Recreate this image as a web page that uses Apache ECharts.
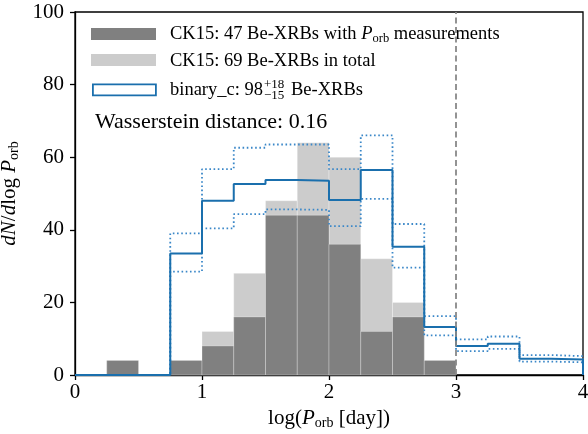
<!DOCTYPE html>
<html><head><meta charset="utf-8">
<script src="https://cdn.jsdelivr.net/npm/echarts@6/dist/echarts.min.js"></script>
<style>html,body{margin:0;padding:0;background:#fff}#c{width:588px;height:434px}</style>
</head><body><div id="c"></div>
<script>
// bin left edges (log P_orb), width 0.25
const binEdges = [0,0.25,0.5,0.75,1,1.25,1.5,1.75,2,2.25,2.5,2.75,3,3.25,3.5,3.75];
const binWidth = 0.25;
const ck15Measured = [0,4,0,4,8,16,44,44,36,12,16,4,0,0,0,0];
const ck15Total    = [0,4,0,4,12,28,48,64,60,32,20,4,0,0,0,0];
const binaryC      = [0,0,0,33.5,48,52.6,53.7,53.5,48.2,56.5,35.3,13.2,8.0,8.6,4.5,4.3];
const binaryCUpper = [0,0,0,39,56.7,62.6,63.5,63.5,56.7,66,41.6,16.2,9.8,10.6,5.5,5.2];
const binaryCLower = [0,0,0,28.5,40.4,44.3,45.6,45.5,41,48.5,29.6,10.9,6.6,7.2,3.7,3.5];
const xTicks = [0,1,2,3,4];
const yTicks = [0,20,40,60,80,100];
const cutLine = 3;

const FONT = 'Liberation Serif';
const solidBlue = '#1a6fad', dotBlue = '#3a87c8';

function stepData(vals){
  const d = binEdges.map((e,i)=>[e, vals[i]]);
  const last = binEdges[binEdges.length-1] + binWidth;
  d.push([last, vals[vals.length-1]]);
  d.push([last, 0]);
  return d;
}
function barData(vals){ return binEdges.map((e,i)=>[e, vals[i]]); }
function barRender(color){
  return function(params, api){
    const x0 = api.value(0), v = api.value(1);
    if (!v) return null;
    const p0 = api.coord([x0, 0]), p1 = api.coord([x0 + binWidth, v]);
    return {type:'rect', shape:{x:p0[0], y:p1[1], width:p1[0]-p0[0], height:p0[1]-p1[1]},
      style:{fill:color, stroke:'rgba(255,255,255,0.35)', lineWidth:0.8}};
  };
}

const chart = echarts.init(document.getElementById('c'), null, {renderer:'canvas'});
const axisCommon = {
  axisLine:{show:true, onZero:false, lineStyle:{color:'#000', width:1.3}},
  axisTick:{show:true, inside:false, length:5, lineStyle:{color:'#000', width:1.3}},
  splitLine:{show:false},
  axisLabel:{color:'#000', fontFamily:FONT, fontSize:21}
};
const richName = {
  n:{fontFamily:FONT, fontSize:21, color:'#000'},
  i:{fontFamily:FONT, fontSize:21, fontStyle:'italic', color:'#000'},
  sub:{fontFamily:FONT, fontSize:14, color:'#000', padding:[10,0,0,0]}
};
chart.setOption({
  animation:false,
  textStyle:{fontFamily:FONT},
  grid:{left:75, right:5, top:12, bottom:59, containLabel:false, outerBoundsMode:'none',
    show:true, borderColor:'#000', borderWidth:1.3, backgroundColor:'transparent'},
  xAxis:Object.assign({type:'value', min:0, max:4, interval:1,
    name:'{n|log(}{i|P}{sub|orb}{n| [day])}', nameLocation:'middle', nameGap:31,
    nameTextStyle:{rich:richName}}, axisCommon, {axisLabel:Object.assign({}, axisCommon.axisLabel, {margin:7})}),
  yAxis:Object.assign({type:'value', min:0, max:100, interval:20,
    name:'{i|dN}{n|/}{i|d}{n|log }{i|P}{sub|orb}', nameLocation:'middle', nameGap:43, nameRotate:90,
    nameTextStyle:{rich:richName}}, axisCommon, {axisLabel:Object.assign({}, axisCommon.axisLabel, {margin:11})}),
  series:[
    {type:'custom', renderItem:barRender('#cccccc'), data:barData(ck15Total), z:1},
    {type:'custom', renderItem:barRender('#808080'), data:barData(ck15Measured), z:2},
    {type:'line', step:'end', data:stepData(binaryCUpper), symbol:'none', z:3,
      lineStyle:{color:dotBlue, width:1.8, type:[1.6,2.6]}},
    {type:'line', step:'end', data:stepData(binaryCLower), symbol:'none', z:3,
      lineStyle:{color:dotBlue, width:1.8, type:[1.6,2.6]}},
    {type:'line', step:'end', data:stepData(binaryC), symbol:'none', z:4,
      lineStyle:{color:solidBlue, width:2},
      markLine:{silent:true, symbol:['none','none'], label:{show:false},
        lineStyle:{color:'#888', type:[6,3.5], width:1.8},
        data:[[{coord:[cutLine,0]},{coord:[cutLine,100]}]]}}
  ],
  graphic:[
    {type:'rect', left:91, top:28, shape:{width:65, height:12}, style:{fill:'#808080'}},
    {type:'rect', left:91, top:54, shape:{width:65, height:12}, style:{fill:'#cccccc'}},
    {type:'rect', left:92, top:83.5, shape:{width:63, height:11}, style:{fill:'#fff', stroke:solidBlue, lineWidth:1.8}},
    {type:'text', left:170, top:25, style:{text:'{n|CK15: 47 Be-XRBs with }{i|P}{sub|orb}{n| measurements}',
      rich:{n:{fontFamily:FONT, fontSize:18.5, fill:'#000'}, i:{fontFamily:FONT, fontSize:18.5, fontStyle:'italic', fill:'#000'},
        sub:{fontFamily:FONT, fontSize:12.5, fill:'#000', padding:[8,0,0,0]}}}},
    {type:'text', left:170, top:52, style:{text:'CK15: 69 Be-XRBs in total', fontFamily:FONT, fontSize:18.5, fill:'#000'}},
    {type:'text', left:170, top:81, style:{text:'binary_c: 98', fontFamily:FONT, fontSize:18.5, fill:'#000'}},
    {type:'text', left:264, top:78.5, style:{text:'+18', fontFamily:FONT, fontSize:13, fill:'#000'}},
    {type:'text', left:264, top:89, style:{text:'\u221215', fontFamily:FONT, fontSize:13, fill:'#000'}},
    {type:'text', left:291, top:81, style:{text:'Be-XRBs', fontFamily:FONT, fontSize:18.5, fill:'#000'}},
    {type:'text', left:95, top:111, style:{text:'Wasserstein distance: 0.16', fontFamily:FONT, fontSize:22, fill:'#000'}}
  ]
});
</script></body></html>
